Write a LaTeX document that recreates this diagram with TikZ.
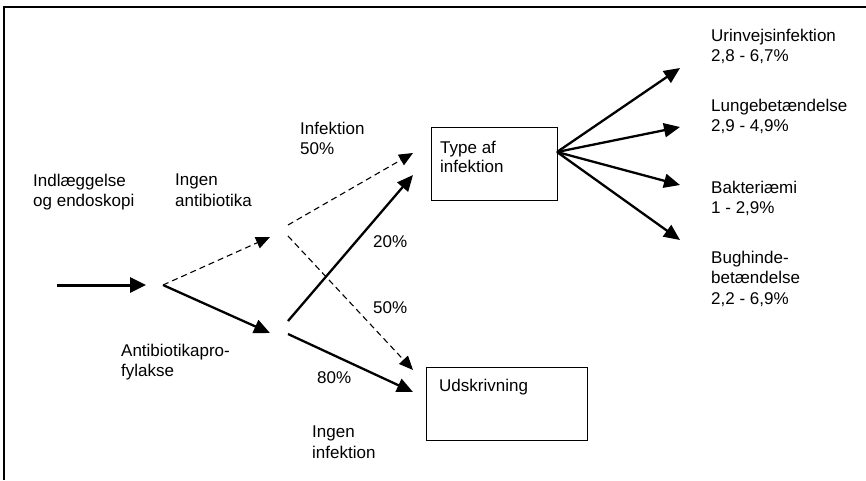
\documentclass[tikz,border=0pt]{standalone}
\usepackage{fontspec}
\setmainfont{Liberation Sans}
\usetikzlibrary{arrows.meta}
\begin{document}
\begin{tikzpicture}[x=1pt,y=-1pt,
  lbl/.style={anchor=north west,inner sep=0pt,align=left,font=\fontsize{17}{20.5}\selectfont},
  boxnode/.style={draw,line width=1.3pt,anchor=north west,inner sep=0pt},
  solidarrow/.style={line width=2.3pt,-{Triangle[length=16pt,width=14pt]}},
  mainarrow/.style={line width=3pt,-{Triangle[length=16pt,width=15pt]}},
  dasharrow/.style={line width=1.1pt,dash pattern=on 6pt off 4pt,-{Triangle[length=14pt,width=12pt]}}]
\useasboundingbox (0,0) rectangle (866,480);
\draw[line width=1.3pt] (4,480) -- (4,7) -- (866,7);
% boxes
\node[boxnode,minimum width=126pt,minimum height=73pt] (type) at (431,127) {};
\node[boxnode,minimum width=161pt,minimum height=73pt] (uds) at (426,367) {};
% coordinates
\coordinate (m0) at (57,285);
\coordinate (m1) at (146,285);
\coordinate (split) at (163,285);
\coordinate (noab) at (270,237);
\coordinate (ab) at (270,333);
\coordinate (noabA) at (288,225);
\coordinate (noabB) at (288,236);
\coordinate (abA) at (288,321);
\coordinate (abB) at (288,334);
\coordinate (typeIn1) at (413,153);
\coordinate (typeIn2) at (413,175);
\coordinate (udsIn1) at (413,370);
\coordinate (udsIn2) at (413,392);
\coordinate (fan) at (557,152);
\coordinate (f1) at (680,68);
\coordinate (f2) at (680,127);
\coordinate (f3) at (680,185);
\coordinate (f4) at (680,240);
% arrows
\draw[mainarrow] (m0) -- (m1);
\draw[dasharrow] (split) -- (noab);
\draw[solidarrow] (split) -- (ab);
\draw[dasharrow] (noabA) -- (typeIn1);
\draw[dasharrow] (noabB) -- (udsIn1);
\draw[solidarrow] (abA) -- (typeIn2);
\draw[solidarrow] (abB) -- (udsIn2);
\foreach \t in {f1,f2,f3,f4} \draw[solidarrow] (fan) -- (\t);
% labels (north west corner = first baseline - 12.3)
\node[lbl] (t1) at (33,173.7) {Indlæggelse\\og endoskopi};
\node[lbl] (t2) at (175,173.7) {Ingen\\antibiotika};
\node[lbl] (t3) at (121,343.7) {Antibiotikapro-\\fylakse};
\node[lbl] (t4) at (300,121.7) {Infektion\\50\%};
\node[lbl] (t5) at (373,235.7) {20\%};
\node[lbl] (t6) at (373,301.7) {50\%};
\node[lbl] (t7) at (317,371.7) {80\%};
\node[lbl] (t8) at (312,425.7) {Ingen\\infektion};
\node[lbl,font=\fontsize{17}{19}\selectfont] (t9) at (440,140.7) {Type af\\infektion};
\node[lbl] (t10) at (439,378.7) {Udskrivning};
\node[lbl] (r1) at (711,28.7) {Urinvejsinfektion\\2,8 - 6,7\%};
\node[lbl] (r2) at (711,98.7) {Lungebetændelse\\2,9 - 4,9\%};
\node[lbl] (r3) at (711,180.7) {Bakteriæmi\\1 - 2,9\%};
\node[lbl] (r4) at (711,250.7) {Bughinde-\\betændelse\\2,2 - 6,9\%};
\end{tikzpicture}
\end{document}
